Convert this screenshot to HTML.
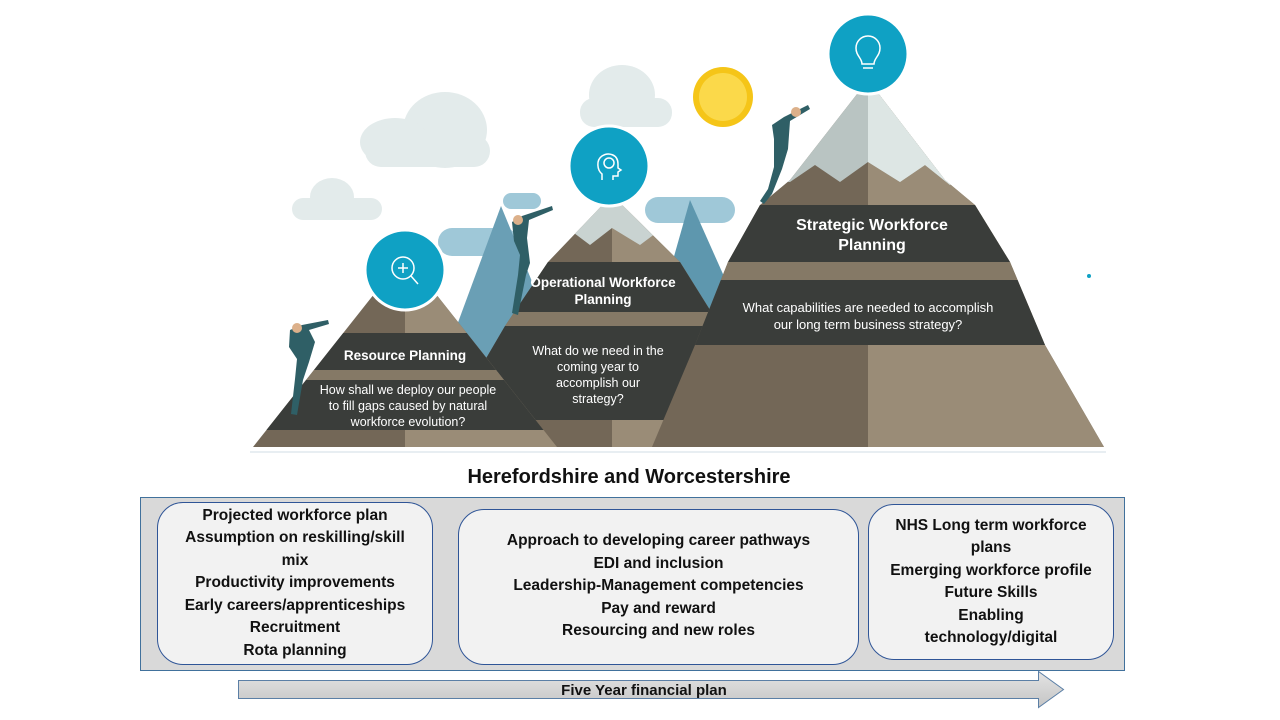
<!DOCTYPE html>
<html><head><meta charset="utf-8"><style>
body{margin:0;width:1280px;height:720px;background:#fff;overflow:hidden;font-family:"Liberation Sans",sans-serif;position:relative}
.box{position:absolute;background:#f2f2f2;border:1px solid #2f5597;border-radius:26px;display:flex;flex-direction:column;justify-content:center;align-items:center;text-align:center;font-weight:bold;font-size:15.5px;line-height:22.5px;color:#111;box-sizing:border-box}
</style></head><body>
<svg width="1280" height="720" style="position:absolute;left:0;top:0">
<defs>
<clipPath id="cr"><polygon points="868,80 945,180 975,205 1010,262 1045,345 1104,447 652,447 695,345 728,262 760,205 790,180"/></clipPath>
<clipPath id="cm"><polygon points="612,195 680,262 720,326 760,420 790,447 420,447 450,420 505,326 548,262"/></clipPath>
<clipPath id="cl"><polygon points="405,255 557,447 253,447"/></clipPath>
<linearGradient id="g" x1="0" y1="0" x2="0" y2="1"><stop offset="0" stop-color="#e4e4e4"/><stop offset="1" stop-color="#c4c4c4"/></linearGradient>
</defs>
<!-- clouds -->
<g fill="#e3ebeb">
<ellipse cx="445" cy="130" rx="42" ry="38"/><ellipse cx="395" cy="142" rx="35" ry="24"/><rect x="365" y="135" width="125" height="32" rx="16"/>
<ellipse cx="332" cy="197" rx="22" ry="19"/><rect x="292" y="198" width="90" height="22" rx="11"/>
<ellipse cx="622" cy="95" rx="33" ry="30"/><rect x="580" y="98" width="92" height="29" rx="14"/>
</g>
<g fill="#9fc8d8"><rect x="438" y="228" width="80" height="28" rx="14"/><rect x="503" y="193" width="38" height="16" rx="8"/><rect x="645" y="197" width="90" height="26" rx="13"/></g>
<!-- sun -->
<circle cx="723" cy="97" r="30" fill="#f5c518"/><circle cx="723" cy="97" r="24" fill="#fbd94a"/>
<!-- back blue mountains -->
<polygon points="412,447 501,206 600,447" fill="#6a9fb5"/>
<polygon points="620,447 690,200 800,447" fill="#5e97ae"/>
<!-- middle mountain -->
<g clip-path="url(#cm)">
<rect x="390" y="180" width="440" height="270" fill="#736757"/>
<rect x="612" y="180" width="220" height="270" fill="#9a8c77"/>
<polygon points="390,180 830,180 830,245 680,245 660,230 640,245 612,228 590,245 570,230 550,245 390,245" fill="#c9d3d1"/>
<rect x="390" y="262" width="440" height="50" fill="#3a3d3a"/>
<rect x="390" y="312" width="440" height="14" fill="#857966"/>
<rect x="390" y="326" width="440" height="94" fill="#3a3d3a"/>
</g>
<!-- right mountain -->
<g clip-path="url(#cr)">
<rect x="640" y="70" width="470" height="380" fill="#736757"/>
<rect x="868" y="70" width="240" height="380" fill="#9a8c77"/>
<polygon points="640,70 1110,70 1110,185 1000,185 975,168 950,185 925,165 900,182 868,162 840,182 815,165 790,182 640,182" fill="#b9c4c2"/>
<polygon points="868,70 1110,70 1110,185 1000,185 975,168 950,185 925,165 900,182 868,162" fill="#dde6e4"/>
<rect x="640" y="205" width="470" height="57" fill="#3a3d3a"/>
<rect x="640" y="262" width="470" height="18" fill="#857966"/>
<rect x="640" y="280" width="470" height="65" fill="#3a3d3a"/>
</g>
<!-- left mountain -->
<g clip-path="url(#cl)">
<rect x="250" y="250" width="310" height="200" fill="#736757"/>
<rect x="405" y="250" width="155" height="200" fill="#9a8c77"/>
<rect x="250" y="333" width="310" height="37" fill="#3a3d3a"/>
<rect x="250" y="370" width="310" height="10" fill="#857966"/>
<rect x="250" y="380" width="310" height="50" fill="#3a3d3a"/>
</g>
<line x1="250" y1="452" x2="1106" y2="452" stroke="#e8eef2" stroke-width="2"/>
<!-- circles -->
<g fill="#0fa1c4" stroke="#fff" stroke-width="3"><circle cx="405" cy="270" r="40"/><circle cx="609" cy="166" r="40"/><circle cx="868" cy="54" r="40"/></g>
<g fill="none" stroke="#fff" stroke-width="1.5"><circle cx="403" cy="268" r="11"/><line x1="411" y1="276" x2="418" y2="284"/><path d="M398 268h10M403 263v10"/>
<path d="M602 180v-6c-5-4-6-14 0-18 6-4 16-2 16 8v4l3 2-3 2v4h-5v4"/><circle cx="609" cy="163" r="5"/>
<path d="M862 64c0-6-6-8-6-16a12 12 0 0 1 24 0c0 8-6 10-6 16z M863 68h10"/></g>
<!-- climbers -->
<g fill="#2f5f66">
<path d="M290 330l12-5 26-5 1 4-20 6 6 12-6 20-6 18-6 35-6-1 4-35 2-20-8-12z"/>
<path d="M512 222l10-6 30-10 1 4-24 10-2 18 3 25-4 12-8 40-6-2 6-38 2-20-6-14z"/>
<path d="M772 125l12-8 24-12 2 4-20 12-2 28-6 20-10 25-8 10-4-3 8-12 6-22 0-28z"/>
</g>
<g fill="#dcb08a"><circle cx="297" cy="328" r="5"/><circle cx="518" cy="220" r="5"/><circle cx="796" cy="112" r="5"/></g>
<circle cx="1089" cy="276" r="2" fill="#0fa1c4"/>
<!-- mountain text -->
<g fill="#fff" font-family="Liberation Sans" text-anchor="middle">
<text x="872" y="230" font-size="16" font-weight="bold">Strategic Workforce</text>
<text x="872" y="250" font-size="16" font-weight="bold">Planning</text>
<text x="868" y="312" font-size="13">What capabilities are needed to accomplish</text>
<text x="868" y="329" font-size="13">our long term business strategy?</text>
<text x="603" y="287" font-size="13.5" font-weight="bold">Operational Workforce</text>
<text x="603" y="304" font-size="13.5" font-weight="bold">Planning</text>
<text x="598" y="355" font-size="12.5">What do we need in the</text>
<text x="598" y="371" font-size="12.5">coming year to</text>
<text x="598" y="387" font-size="12.5">accomplish our</text>
<text x="598" y="403" font-size="12.5">strategy?</text>
<text x="405" y="360" font-size="13.5" font-weight="bold">Resource Planning</text>
<text x="408" y="394" font-size="12.5">How shall we deploy our people</text>
<text x="408" y="410" font-size="12.5">to fill gaps caused by natural</text>
<text x="408" y="426" font-size="12.5">workforce evolution?</text>
</g>
<text x="629" y="483" text-anchor="middle" font-size="20" font-weight="bold" fill="#111" font-family="Liberation Sans">Herefordshire and Worcestershire</text>
<rect x="140.5" y="497.5" width="984" height="173" fill="#d9d9d9" stroke="#41719c"/>
<polygon points="238.5,680.5 1038.5,680.5 1038.5,671.5 1063.5,689.5 1038.5,707.5 1038.5,698.5 238.5,698.5" fill="url(#g)" stroke="#5b7fa6"/>
<text x="644" y="695" text-anchor="middle" font-size="15" font-weight="bold" fill="#111" font-family="Liberation Sans">Five Year financial plan</text>
</svg>
<div class="box" style="left:157px;top:502px;width:276px;height:163px">Projected workforce plan<br>Assumption on reskilling/skill<br>mix<br>Productivity improvements<br>Early careers/apprenticeships<br>Recruitment<br>Rota planning</div>
<div class="box" style="left:458px;top:509px;width:401px;height:156px;justify-content:flex-start;padding-top:20px">Approach to developing career pathways<br>EDI and inclusion<br>Leadership-Management competencies<br>Pay and reward<br>Resourcing and new roles</div>
<div class="box" style="left:868px;top:504px;width:246px;height:156px">NHS Long term workforce<br>plans<br>Emerging workforce profile<br>Future Skills<br>Enabling<br>technology/digital</div>
</body></html>
